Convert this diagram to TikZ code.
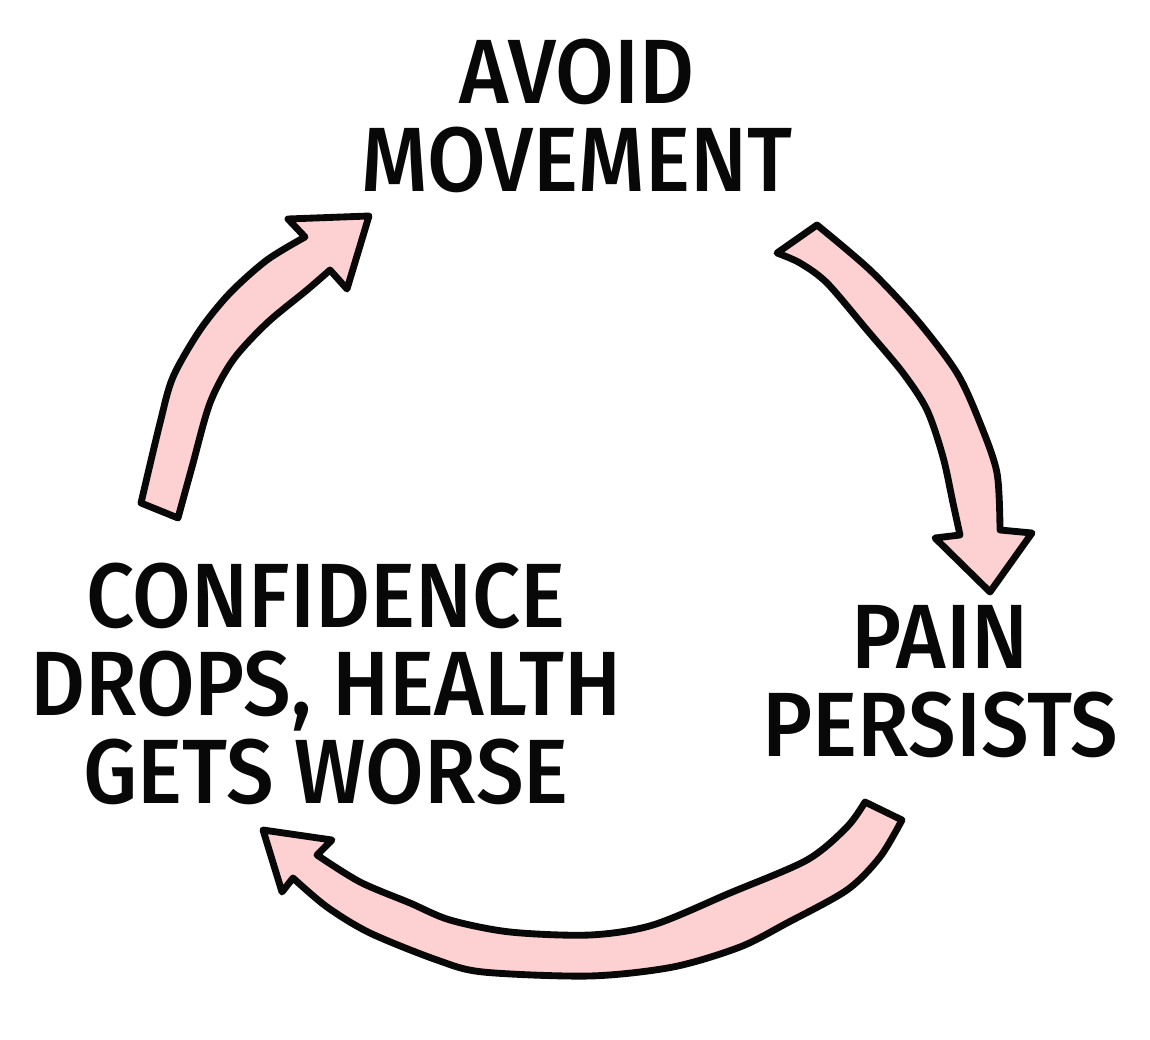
\documentclass[tikz,border=0pt]{standalone}
\usepackage{fontspec}
\setmainfont{Fira Sans Medium}[FakeStretch=0.93]
\usepackage{tikz}
\definecolor{arrpink}{RGB}{253,208,210}
\definecolor{arrline}{RGB}{8,8,8}
\tikzset{
  farr/.style={fill=arrpink, draw=arrline, line width=3.9pt, line join=round},
  lbl/.style={align=center, font=\fontsize{52}{50}\selectfont, text=arrline, inner sep=0pt},
}

\begin{document}
\begin{tikzpicture}[x=0.02cm,y=-0.02cm]
\useasboundingbox (0,0) rectangle (1150,1040);
% the three stages
\node[lbl] (avoid) at (577,116) {AVOID\\MOVEMENT};
\node[lbl] (pain) at (940,682) {PAIN\\PERSISTS};
\node[lbl] (conf) at (326,684) {CONFIDENCE\\DROPS, HEALTH\\GETS WORSE};
% left arrow, up to avoid
\draw[farr] (141,503) -- (178,518)
  -- plot[smooth] coordinates {(178,518) (192,467) (210,403) (233,360) (267,323) (307,290) (330,270)}
  -- (347,289) -- (369,216) -- (288,219) -- (305,237)
  -- plot[smooth] coordinates {(305,237) (267,260) (230,293) (200,330) (173,377) (160,423) (141,503)}
  -- cycle;
% right arrow, down to pain
\draw[farr] (777,253) -- (817,225)
  -- plot[smooth] coordinates {(817,225) (870,270) (917,320) (957,373) (980,423) (997,473) (1000,530)}
  -- (1032,533) -- (990,592) -- (935,538) -- (960,535)
  -- plot[smooth] coordinates {(960,535) (953,503) (943,457) (927,410) (903,373) (867,330) (827,283) (800,263) (777,253)}
  -- cycle;
% bottom arrow, back to conf
\draw[farr] (865,802) -- (902,820)
  -- plot[smooth] coordinates {(902,820) (880,857) (847,890) (787,923) (740,947) (673,967) (590,976) (483,972) (437,960) (370,933) (327,907) (293,878)}
  -- (282,892) -- (263,830) -- (332,840) -- (317,855)
  -- plot[smooth] coordinates {(317,855) (360,882) (410,903) (450,920) (510,932) (590,935) (653,925) (730,893) (807,860) (847,827) (865,802)}
  -- cycle;
\end{tikzpicture}
\end{document}
